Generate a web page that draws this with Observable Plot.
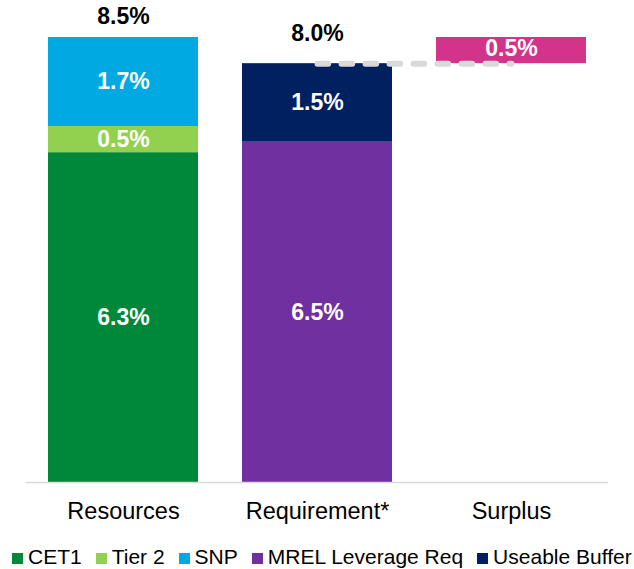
<!DOCTYPE html>
<html><head><meta charset="utf-8">
<script src="https://cdn.jsdelivr.net/npm/d3@7"></script>
<script src="https://cdn.jsdelivr.net/npm/@observablehq/plot@0.6"></script>
<style>
body{margin:0;background:#fff;font-family:"Liberation Sans",Arial,sans-serif;}
#legend{display:flex;flex-wrap:nowrap;white-space:nowrap;padding:10px 0 0 12px;font-size:21px;line-height:24px;color:#000;}
#legend .item{margin-right:14px;}
#legend .item:last-child{margin-right:0;}
#legend .sw{display:inline-block;width:11px;height:11px;margin-right:5px;vertical-align:baseline;}
</style>
</head><body><div id="chart"></div><div id="legend"></div><script>
const categories = ["Resources", "Requirement*", "Surplus"];
const components = ["CET1", "Tier 2", "SNP", "MREL Leverage Req", "Useable Buffer"];
const componentColors = ["#00883A", "#92D050", "#00A9E2", "#7030A0", "#002060"];
const resourceValues = [6.3, 0.5, 1.7];      // CET1, Tier 2, SNP
const requirementValues = [6.5, 1.5];        // MREL Leverage Req, Useable Buffer
const surplusFrom = 8.0;
const surplusTo = 8.5;
const surplusValue = 0.5;
const surplusColor = "#D3338A";
const resourceTotal = 8.5;
const requirementTotal = 8.0;

const stacked = [
  ...resourceValues.map((v, i) => ({category: "Resources", component: components[i], value: v})),
  ...requirementValues.map((v, i) => ({category: "Requirement*", component: components[3 + i], value: v}))
];
const surplus = [{category: "Surplus", y1: surplusFrom, y2: surplusTo, value: surplusValue}];
const connector = [{from: "Requirement*", to: "Surplus", y: requirementTotal}];
const fmt = v => v.toFixed(1) + "%";

const chart = Plot.plot({
  width: 634,
  height: 535,
  marginLeft: 26,
  marginRight: 26,
  marginTop: 37,
  marginBottom: 53,
  style: {fontFamily: "'Liberation Sans', Arial, sans-serif", background: "#fff", color: "#000"},
  x: {domain: categories, paddingInner: 0.2268, paddingOuter: 0.1134, axis: null},
  y: {domain: [0, 8.5], axis: null},
  color: {domain: components, range: componentColors},
  marks: [
    Plot.barY(stacked, {x: "category", y: "value", fill: "component", z: "component"}),
    Plot.barY(surplus, {x: "category", y1: "y1", y2: "y2", fill: surplusColor}),
    Plot.ruleY([0], {stroke: "#d9d9d9", strokeWidth: 1.5}),
    Plot.text(stacked, Plot.stackY({x: "category", y: "value", z: "component",
      text: d => fmt(d.value), fill: "white", fontWeight: "bold", fontSize: 23})),
    Plot.text(surplus, {x: "category", y: d => (d.y1 + d.y2) / 2, text: d => fmt(d.value),
      fill: "white", fontWeight: "bold", fontSize: 23, dy: -2}),
    Plot.link(connector, {x1: "from", x2: "to", y1: "y", y2: "y", stroke: "#d9d9d9",
      strokeWidth: 6, strokeLinecap: "round", strokeDasharray: "10.7,13.3"}),
    Plot.text([{category: "Resources", total: resourceTotal}], {x: "category", y: "total",
      text: d => fmt(d.total), fontWeight: "bold", fontSize: 23, fill: "#000", dy: -21}),
    Plot.text([{category: "Requirement*", total: requirementTotal}], {x: "category", y: "total",
      text: d => fmt(d.total), fontWeight: "bold", fontSize: 23, fill: "#000", dy: -30}),
    Plot.axisX({tickSize: 0, tickPadding: 20, fontSize: 23.5, label: null, fill: "#000"})
  ]
});
document.getElementById("chart").appendChild(chart);

const legend = document.getElementById("legend");
components.forEach((c, i) => {
  const item = document.createElement("span");
  item.className = "item";
  const sw = document.createElement("span");
  sw.className = "sw";
  sw.style.background = componentColors[i];
  item.appendChild(sw);
  item.appendChild(document.createTextNode(c));
  legend.appendChild(item);
});
</script></body></html>
